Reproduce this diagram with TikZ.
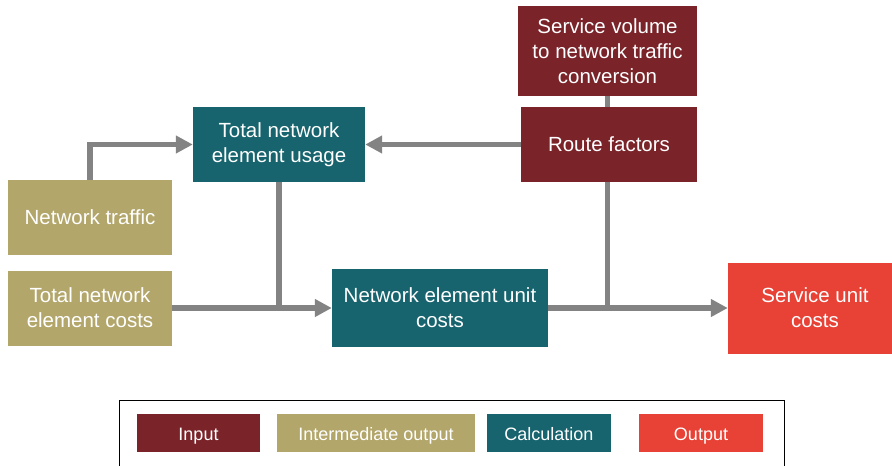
\documentclass[tikz,border=0pt]{standalone}
\usepackage{fontspec}
\setmainfont{Liberation Sans}
\usetikzlibrary{arrows.meta}
\definecolor{cinput}{HTML}{7A242A}
\definecolor{cinter}{HTML}{B3A66B}
\definecolor{ccalc}{HTML}{17646E}
\definecolor{cout}{HTML}{E84135}
\definecolor{cline}{HTML}{838383}
\tikzset{
  box/.style={rectangle, inner sep=0pt, align=center, text=white,
    font=\fontsize{20.5}{25}\selectfont},
  legbox/.style={rectangle, inner sep=0pt, align=center, text=white,
    minimum height=38pt, text height=16pt, text depth=2pt,
    font=\fontsize{18}{20}\selectfont},
  conn/.style={draw=cline, line width=5.5pt},
  arr/.style={conn, -{Triangle[length=17pt,width=17pt]}}
}
\begin{document}
\begin{tikzpicture}[x=1pt,y=-1pt]
\useasboundingbox (0,0) rectangle (892,466);
% boxes
\node[box, fill=cinput, minimum width=179pt, minimum height=90pt] (sv) at (607.5,51) {Service volume\\to network traffic\\conversion};
\node[box, fill=cinput, minimum width=176pt, minimum height=75pt] (route) at (609,144.5) {Route factors};
\node[box, fill=ccalc, minimum width=172pt, minimum height=75pt] (usage) at (279,144.5) {Total network\\element usage};
\node[box, fill=cinter, minimum width=164pt, minimum height=75pt] (traffic) at (90,217.5) {Network traffic};
\node[box, fill=cinter, minimum width=164pt, minimum height=75pt] (costs) at (90,308) {Total network\\element costs};
\node[box, fill=ccalc, minimum width=216pt, minimum height=78pt] (unit) at (440,308) {Network element unit\\costs};
\node[box, fill=cout, minimum width=174pt, minimum height=91pt] (out) at (815,308) {Service unit\\costs};
% connectors
\coordinate (j1) at (sv.south |- route.south);
\coordinate (j2) at (sv.south |- unit.east);
\draw[conn] (sv.south) -- (sv.south |- route.north);
\draw[arr] (traffic.north) |- (usage.west);
\draw[arr] (route.west) -- (usage.east);
\draw[conn] (usage.south) -- (usage.south |- unit.west);
\draw[arr] (costs.east) -- (unit.west);
\draw[conn] (j1) -- (j2);
\draw[arr] (unit.east) -- (out.west);
% legend
\draw[line width=1pt] (119,470) -- (119,400.5) -- (784,400.5) -- (784,470);
\node[legbox, fill=cinput, minimum width=123pt] (lin) at (198.5,433) {Input};
\node[legbox, fill=cinter, minimum width=198pt] (lint) at (376,433) {Intermediate output};
\node[legbox, fill=ccalc, minimum width=124pt] (lcalc) at (549,433) {Calculation};
\node[legbox, fill=cout, minimum width=124pt] (lout) at (701,433) {Output};
\end{tikzpicture}
\end{document}
